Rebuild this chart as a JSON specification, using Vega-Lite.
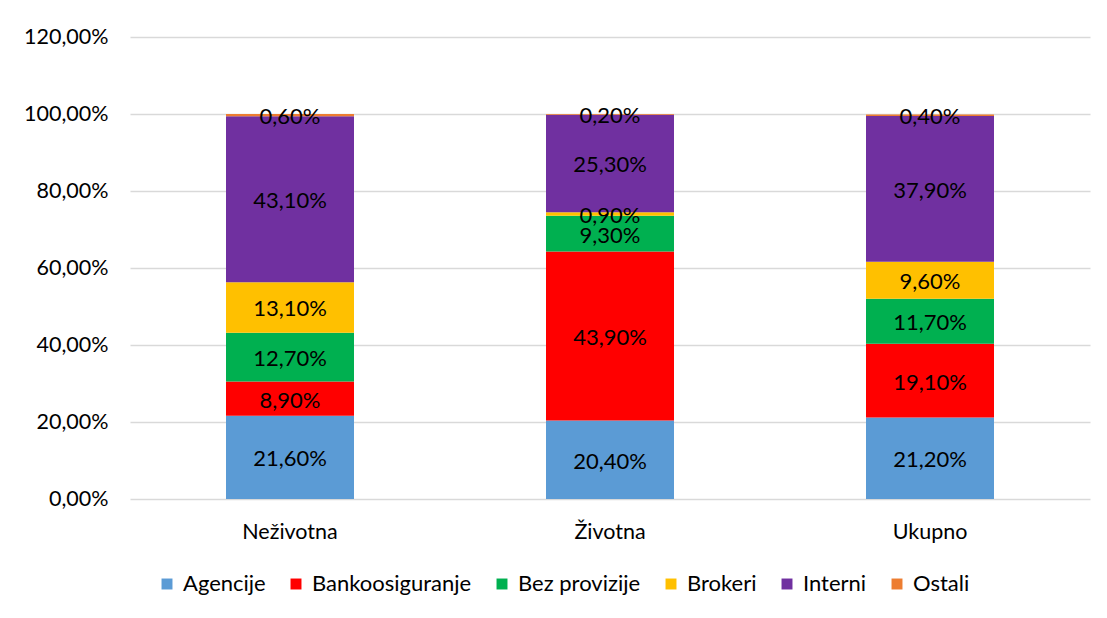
{
  "$schema": "https://vega.github.io/schema/vega-lite/v6.json",
  "autosize": "none",
  "width": 960,
  "height": 462,
  "padding": {"left": 130, "top": 37, "right": 17, "bottom": 119},
  "background": "white",
  "config": {
    "locale": {"number": {"decimal": ",", "thousands": ".", "grouping": [3], "currency": ["", " kn"]}},
    "view": {"stroke": null},
    "font": "Lato",
    "axis": {"labelFont": "Lato", "labelFontSize": 21.5, "labelColor": "#000000", "labelOverlap": false, "labelFlush": false}
  },
  "data": {
    "values": [
      {"cat": "Neživotna", "series": "Agencije", "value": 0.216},
      {"cat": "Neživotna", "series": "Bankoosiguranje", "value": 0.089},
      {"cat": "Neživotna", "series": "Bez provizije", "value": 0.127},
      {"cat": "Neživotna", "series": "Brokeri", "value": 0.131},
      {"cat": "Neživotna", "series": "Interni", "value": 0.431},
      {"cat": "Neživotna", "series": "Ostali", "value": 0.006},
      {"cat": "Životna", "series": "Agencije", "value": 0.204},
      {"cat": "Životna", "series": "Bankoosiguranje", "value": 0.439},
      {"cat": "Životna", "series": "Bez provizije", "value": 0.093},
      {"cat": "Životna", "series": "Brokeri", "value": 0.009},
      {"cat": "Životna", "series": "Interni", "value": 0.253},
      {"cat": "Životna", "series": "Ostali", "value": 0.002},
      {"cat": "Ukupno", "series": "Agencije", "value": 0.212},
      {"cat": "Ukupno", "series": "Bankoosiguranje", "value": 0.191},
      {"cat": "Ukupno", "series": "Bez provizije", "value": 0.117},
      {"cat": "Ukupno", "series": "Brokeri", "value": 0.096},
      {"cat": "Ukupno", "series": "Interni", "value": 0.379},
      {"cat": "Ukupno", "series": "Ostali", "value": 0.004}
    ]
  },
  "encoding": {
    "x": {
      "field": "cat", "type": "nominal", "sort": null,
      "scale": {"paddingInner": 0.6, "paddingOuter": 0.3},
      "axis": {"title": null, "labelAngle": 0, "ticks": false, "domain": false, "labelPadding": 22}
    }
  },
  "layer": [
    {
      "mark": {"type": "bar"},
      "encoding": {
        "y": {
          "field": "value", "type": "quantitative", "stack": "zero",
          "scale": {"domain": [0, 1.2], "nice": false},
          "axis": {"title": null, "format": ".2%", "values": [0, 0.2, 0.4, 0.6, 0.8, 1.0, 1.2], "ticks": false, "domain": false, "gridColor": "#D9D9D9", "gridWidth": 1.3, "labelPadding": 22}
        },
        "color": {
          "field": "series", "type": "nominal",
          "scale": {
            "domain": ["Agencije", "Bankoosiguranje", "Bez provizije", "Brokeri", "Interni", "Ostali"],
            "range": ["#5B9BD5", "#FF0000", "#00B050", "#FFC000", "#7030A0", "#ED7D31"]
          },
          "legend": {
            "title": null, "orient": "none", "direction": "horizontal",
            "legendX": 26, "legendY": 536,
            "symbolType": "square", "symbolSize": 120, "symbolStrokeWidth": 0,
            "labelFont": "Lato", "labelFontSize": 22, "labelColor": "#000000",
            "labelOffset": 5, "columnPadding": 19
          }
        },
        "order": {"field": "series", "sort": "ascending"}
      }
    },
    {
      "mark": {"type": "text", "font": "Lato", "fontSize": 22, "color": "#000000", "baseline": "middle", "dy": 2},
      "encoding": {
        "y": {"field": "value", "type": "quantitative", "stack": "zero", "bandPosition": 0.5},
        "detail": {"field": "series"},
        "order": {"field": "series", "sort": "ascending"},
        "text": {"field": "value", "type": "quantitative", "format": ".2%"}
      }
    }
  ]
}
